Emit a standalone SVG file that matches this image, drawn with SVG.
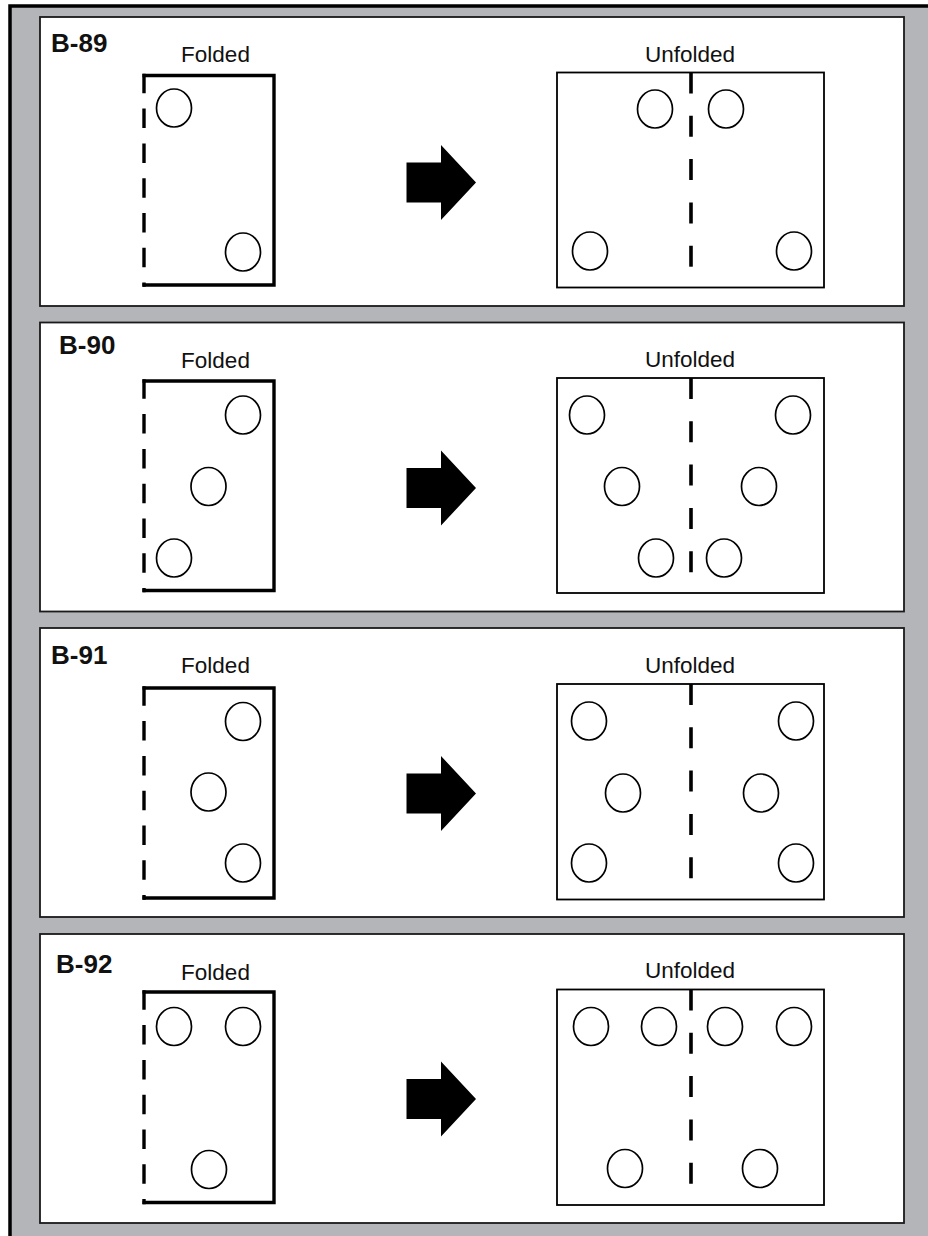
<svg xmlns="http://www.w3.org/2000/svg" width="928" height="1236" viewBox="0 0 928 1236">
<style>
.bg{fill:#b4b5b9;stroke:#000;stroke-width:3.5}
.panel{fill:#fff;stroke:#1a1a1a;stroke-width:1.8}
.lbl{font-family:"Liberation Sans",Arial,sans-serif;font-weight:bold;font-size:26px;fill:#111}
.cap{font-family:"Liberation Sans",Arial,sans-serif;font-size:22.5px;fill:#111;text-anchor:middle}
.fold{fill:none;stroke:#000;stroke-width:3.4}
.folddash{fill:none;stroke:#000;stroke-width:3.4;stroke-dasharray:19.5 15.3}
.unf{fill:none;stroke:#000;stroke-width:1.8}
.unfdash{fill:none;stroke:#000;stroke-width:3.6;stroke-dasharray:21 22.3}
.hole{fill:#fff;stroke:#000;stroke-width:1.7}
.arr{fill:#000}
</style>
<defs>
<path id="arrow" d="M406.5,-20 H441 V-37.5 L476,0 L441,37.5 V20 H406.5 Z"/>
<ellipse id="h" cx="0" cy="0" rx="17.5" ry="19"/>
</defs>
<rect class="bg" x="10" y="6" width="940" height="1260"/>

<g id="panel-b89">
<rect class="panel" x="40" y="17" width="864" height="289"/>
<text class="lbl" x="51" y="51.5">B-89</text>
<text class="cap" x="215.5" y="62">Folded</text>
<path class="fold" d="M142.5,75.5 H274 V285 H142.5"/>
<path class="folddash" d="M144,73.8 V286.7"/>
<use href="#h" class="hole" x="174" y="108"/>
<use href="#h" class="hole" x="243" y="252"/>
<text class="cap" x="690" y="61.7">Unfolded</text>
<rect class="unf" x="557" y="72.5" width="267" height="215"/>
<path class="unfdash" d="M691,72.5 V268"/>
<use href="#h" class="hole" x="655" y="109"/>
<use href="#h" class="hole" x="726" y="109"/>
<use href="#h" class="hole" x="590" y="251"/>
<use href="#h" class="hole" x="794" y="251"/>
</g>

<g id="panel-b90">
<rect class="panel" x="40" y="322.5" width="864" height="289"/>
<text class="lbl" x="59" y="354">B-90</text>
<text class="cap" x="215.5" y="367.5">Folded</text>
<path class="fold" d="M142.5,381 H274 V590.5 H142.5"/>
<path class="folddash" d="M144,379.3 V592.2"/>
<use href="#h" class="hole" x="243" y="415"/>
<use href="#h" class="hole" x="208.5" y="486.5"/>
<use href="#h" class="hole" x="174" y="558"/>
<text class="cap" x="690" y="367">Unfolded</text>
<rect class="unf" x="557" y="378" width="267" height="215"/>
<path class="unfdash" d="M691,378 V573.5"/>
<use href="#h" class="hole" x="587" y="415"/>
<use href="#h" class="hole" x="793" y="415"/>
<use href="#h" class="hole" x="622" y="486.5"/>
<use href="#h" class="hole" x="759" y="486.5"/>
<use href="#h" class="hole" x="656" y="558"/>
<use href="#h" class="hole" x="724" y="558"/>
</g>

<g id="panel-b91">
<rect class="panel" x="40" y="628" width="864" height="289"/>
<text class="lbl" x="51" y="664">B-91</text>
<text class="cap" x="215.5" y="673">Folded</text>
<path class="fold" d="M142.5,688 H274 V898 H142.5"/>
<path class="folddash" d="M144,686.3 V899.7"/>
<use href="#h" class="hole" x="243" y="721.5"/>
<use href="#h" class="hole" x="208.5" y="792"/>
<use href="#h" class="hole" x="243" y="863"/>
<text class="cap" x="690" y="672.5">Unfolded</text>
<rect class="unf" x="557" y="684" width="267" height="215.5"/>
<path class="unfdash" d="M691,684 V879.5"/>
<use href="#h" class="hole" x="589" y="721"/>
<use href="#h" class="hole" x="796" y="721"/>
<use href="#h" class="hole" x="623" y="793"/>
<use href="#h" class="hole" x="761" y="793"/>
<use href="#h" class="hole" x="589" y="863"/>
<use href="#h" class="hole" x="796" y="863"/>
</g>

<g id="panel-b92">
<rect class="panel" x="40" y="934" width="864" height="289"/>
<text class="lbl" x="56" y="973">B-92</text>
<text class="cap" x="215.5" y="980">Folded</text>
<path class="fold" d="M142.5,992 H274 V1202.5 H142.5"/>
<path class="folddash" d="M144,990.3 V1204.2"/>
<use href="#h" class="hole" x="174" y="1026.5"/>
<use href="#h" class="hole" x="243" y="1026.5"/>
<use href="#h" class="hole" x="209" y="1169.5"/>
<text class="cap" x="690" y="978">Unfolded</text>
<rect class="unf" x="557" y="989.5" width="267" height="215.5"/>
<path class="unfdash" d="M691,989.5 V1185"/>
<use href="#h" class="hole" x="591" y="1026.5"/>
<use href="#h" class="hole" x="659" y="1026.5"/>
<use href="#h" class="hole" x="725" y="1026.5"/>
<use href="#h" class="hole" x="794" y="1026.5"/>
<use href="#h" class="hole" x="625" y="1168.5"/>
<use href="#h" class="hole" x="760" y="1168.5"/>
</g>

<g id="connectors">
<use href="#arrow" class="arr" x="0" y="182.5"/>
<use href="#arrow" class="arr" x="0" y="488"/>
<use href="#arrow" class="arr" x="0" y="793.5"/>
<use href="#arrow" class="arr" x="0" y="1099"/>
</g>
</svg>
